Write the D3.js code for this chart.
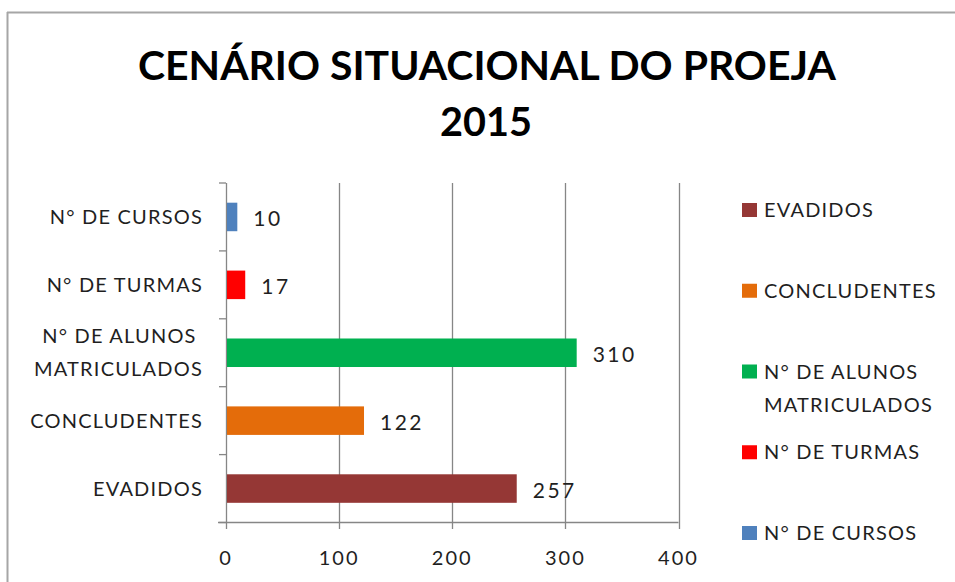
<!DOCTYPE html>
<html>
<head>
<meta charset="utf-8">
<script src="https://cdn.jsdelivr.net/npm/d3@7"></script>
<style>
  body { margin: 0; background: #fff; }
  svg { display: block; }
  text { font-family: Lato, "Open Sans", sans-serif; fill: #1f1f1f; }
</style>
</head>
<body>
<div id="chart"></div>
<script>
// data, top-down order as the bars appear
const categories = ["N° DE CURSOS", "N° DE TURMAS", "N° DE ALUNOS \nMATRICULADOS", "CONCLUDENTES", "EVADIDOS"];
const values = [10, 17, 310, 122, 257];
const colors = ["#4F81BD", "#FF0000", "#00B050", "#E46C0A", "#953735"];
const xTicks = [0, 100, 200, 300, 400];
// legend lists series in reverse order
const legendOrder = ["EVADIDOS", "CONCLUDENTES", "N° DE ALUNOS\nMATRICULADOS", "N° DE TURMAS", "N° DE CURSOS"];
const legendColors = ["#953735", "#E46C0A", "#00B050", "#FF0000", "#4F81BD"];
const titleLines = ["CENÁRIO SITUACIONAL DO PROEJA", "2015"];

const width = 955, height = 582;
const svg = d3.select("#chart").append("svg")
    .attr("width", width)
    .attr("height", height);

// chart border (top and left visible)
svg.append("path")
    .attr("d", "M7,12.5H955M7.5,12V582")
    .attr("fill", "none")
    .attr("stroke", "#a6a6a6")
    .attr("stroke-width", 2);

// title
svg.append("text")
    .attr("x", 487).attr("y", 80)
    .attr("text-anchor", "middle")
    .attr("textLength", 698).attr("lengthAdjust", "spacingAndGlyphs")
    .style("font-size", "41px").style("font-weight", "bold").style("fill", "#000")
    .text(titleLines[0]);
svg.append("text")
    .attr("x", 486).attr("y", 136)
    .attr("text-anchor", "middle")
    .attr("textLength", 92).attr("lengthAdjust", "spacingAndGlyphs")
    .style("font-size", "41px").style("font-weight", "bold").style("fill", "#000")
    .text(titleLines[1]);

const x = d3.scaleLinear().domain([0, 400]).range([226, 678.5]);
const y = d3.scaleBand().domain(categories).range([183, 522.5])
    .paddingInner(0.58).paddingOuter(0.29);

const gridColor = "#868686";

// vertical gridlines + x tick marks
svg.append("g").selectAll("line")
    .data(xTicks)
    .join("line")
    .attr("x1", d => Math.round(x(d)) + 0.5).attr("x2", d => Math.round(x(d)) + 0.5)
    .attr("y1", 183).attr("y2", 529)
    .attr("stroke", gridColor).attr("stroke-width", 1.3);

// x axis line
svg.append("line")
    .attr("x1", 218).attr("x2", x(400))
    .attr("y1", 522.5).attr("y2", 522.5)
    .attr("stroke", gridColor).attr("stroke-width", 1.3);

// y tick marks at band boundaries
const step = y.step();
svg.append("g").selectAll("line")
    .data(d3.range(categories.length + 1))
    .join("line")
    .attr("x1", 219).attr("x2", 226)
    .attr("y1", i => 183 + i * step).attr("y2", i => 183 + i * step)
    .attr("stroke", gridColor).attr("stroke-width", 1.3);

// x tick labels
svg.append("g").selectAll("text")
    .data(xTicks)
    .join("text")
    .attr("x", d => x(d)).attr("y", 565)
    .attr("text-anchor", "middle")
    .style("font-size", "20px")
    .style("letter-spacing", "2px")
    .text(d => d);

// bars
svg.append("g").selectAll("rect")
    .data(categories)
    .join("rect")
    .attr("x", x(0) + 1)
    .attr("y", d => y(d))
    .attr("width", (d, i) => x(values[i]) - x(0) - 1)
    .attr("height", y.bandwidth())
    .attr("fill", (d, i) => colors[i]);

// value labels
svg.append("g").selectAll("text")
    .data(categories)
    .join("text")
    .attr("x", (d, i) => x(values[i]) + 16)
    .attr("y", d => y(d) + y.bandwidth() / 2 + 9)
    .style("font-size", "21px")
    .style("letter-spacing", "2.5px")
    .text((d, i) => values[i]);

// category labels
const catLabels = svg.append("g").selectAll("text")
    .data(categories)
    .join("text")
    .attr("text-anchor", "end")
    .style("font-size", "20px")
    .style("letter-spacing", "1.2px")
    .style("white-space", "pre");
catLabels.each(function(d) {
    const lines = d.split("\n");
    const cy = y(d) + y.bandwidth() / 2;
    const lh = 33;
    d3.select(this).selectAll("tspan")
        .data(lines)
        .join("tspan")
        .attr("x", 203)
        .attr("y", (l, j) => cy + 7 + (j - (lines.length - 1) / 2) * lh)
        .text(l => l);
});

// legend
const ly = d3.scaleLinear().domain([0, 4]).range([210, 533]);
const legend = svg.append("g").selectAll("g")
    .data(legendOrder)
    .join("g")
    .attr("transform", (d, i) => `translate(742,${ly(i)})`);
legend.append("rect")
    .attr("x", 0).attr("y", -7).attr("width", 15).attr("height", 14)
    .attr("fill", (d, i) => legendColors[i]);
legend.append("text")
    .style("font-size", "20px")
    .style("letter-spacing", "1.2px")
    .selectAll("tspan")
    .data(d => d.split("\n"))
    .join("tspan")
    .attr("x", 22)
    .attr("y", (l, j) => 7 + j * 33)
    .text(l => l);
</script>
</body>
</html>
